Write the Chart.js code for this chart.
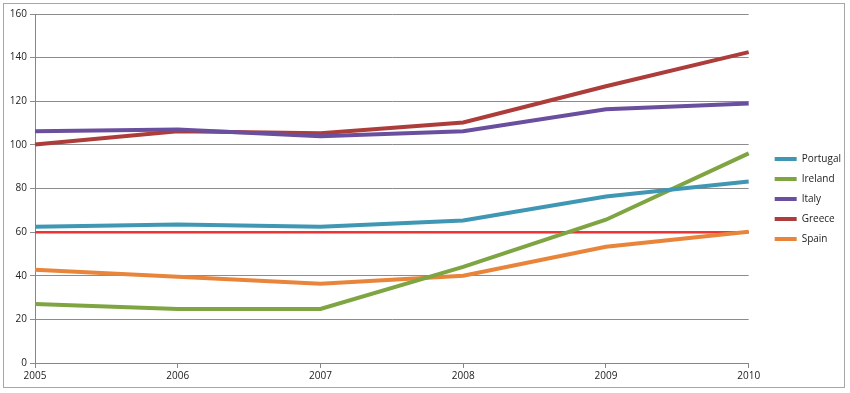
<!DOCTYPE html>
<html>
<head>
<meta charset="utf-8">
<script src="https://cdn.jsdelivr.net/npm/chart.js@4/dist/chart.umd.min.js"></script>
<style>
  html, body { margin:0; padding:0; background:#fff; }
  #wrap  { position:relative; width:850px; height:393px; }
  #frame { position:absolute; left:3px; top:3px; width:842px; height:385px;
           border:1px solid #a6a6a6; box-sizing:border-box; pointer-events:none; }
  canvas { position:absolute; left:0; top:0; }
</style>
</head>
<body>
<div id="wrap">
  <canvas id="debtChart" width="850" height="393"></canvas>
  <div id="frame"></div>
</div>
<script>
/* ===== data ===== */
const years     = ['2005','2006','2007','2008','2009','2010'];
const portugal  = [62.5, 63.5, 62.5, 65.3, 76.3, 83.2];
const ireland   = [27.1, 24.8, 24.8, 44.1, 65.7, 96.1];
const italy     = [106.2, 107.0, 103.9, 106.2, 116.3, 119.0];
const greece    = [100.2, 106.2, 105.3, 110.3, 126.9, 142.5];
const spain     = [42.8, 39.5, 36.3, 40.0, 53.3, 60.2];
const limit60   = [60, 60, 60, 60, 60, 60];        // reference line, not in legend
const yTicks    = { min: 0, max: 160, step: 20 };

const FONT = { family: '"Open Sans", sans-serif', size: 10 };

function series (label, data, color, width) {
  return {
    label, data,
    borderColor: color, backgroundColor: color,
    borderWidth: width, pointRadius: 0, tension: 0, fill: false
  };
}

/* legend sits a bit away from the plot, like the original */
const legendNudge = {
  id: 'legendNudge',
  afterLayout (chart) {
    const lg = chart.legend;
    if (lg) { lg.left += 16; lg.right += 16; }
  }
};

new Chart(document.getElementById('debtChart'), {
  type: 'line',
  data: {
    labels: years,
    datasets: [
      series('Portugal', portugal, '#3f97b3', 4),
      series('Ireland',  ireland,  '#7ea542', 4),
      series('Italy',    italy,    '#6a4f9e', 4),
      series('Greece',   greece,   '#ad3d3b', 4),
      series('Spain',    spain,    '#e8853a', 4),
      series('',         limit60,  '#f03232', 2.5)
    ]
  },
  plugins: [legendNudge],
  options: {
    responsive: false,
    animation: false,
    layout: { padding: { left: 8, top: 14, right: 15, bottom: 9 } },
    scales: {
      x: {
        offset: false,
        grid: { drawOnChartArea: false, drawTicks: true, tickLength: 5, color: '#868686' },
        border: { color: '#868686' },
        ticks: { font: FONT, color: '#222', maxRotation: 0, padding: 2 }
      },
      y: {
        min: yTicks.min, max: yTicks.max,
        grid: { color: '#8c8c8c', tickLength: 5 },
        border: { color: '#868686' },
        ticks: { stepSize: yTicks.step, font: FONT, color: '#222', padding: 3 },
        afterFit: s => { s.width = 27; }
      }
    },
    plugins: {
      legend: {
        position: 'right',
        labels: {
          font: FONT, color: '#222',
          boxWidth: 22, boxHeight: 4, padding: 10,
          generateLabels (chart) {
            return Chart.defaults.plugins.legend.labels.generateLabels(chart)
              .filter(it => it.text !== '')
              .map(it => Object.assign(it, { lineWidth: 0, strokeStyle: 'transparent' }));
          }
        }
      },
      tooltip: { enabled: false }
    }
  }
});
</script>
</body>
</html>
